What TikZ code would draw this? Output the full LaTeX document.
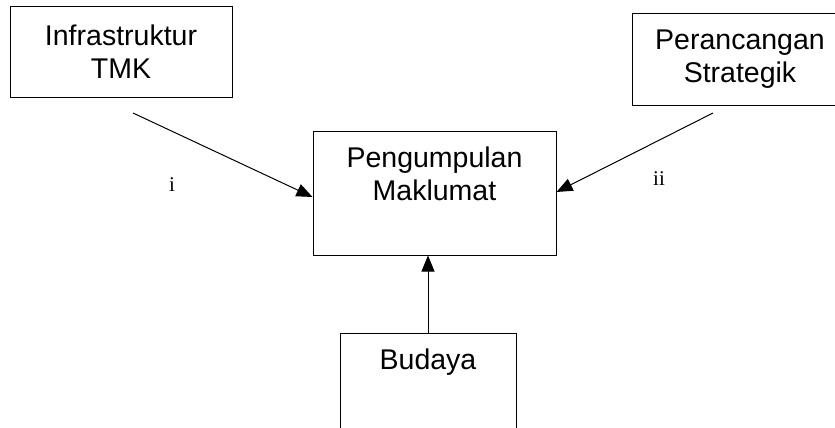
\documentclass[tikz,border=0pt]{standalone}
\usepackage{fontspec}
\setmainfont{Liberation Serif}
\newfontfamily\arialfont{Liberation Sans}
\usetikzlibrary{arrows.meta,positioning}

\begin{document}
\begin{tikzpicture}[x=1pt, y=-1pt,
  box/.style={draw=black, line width=1pt, rectangle, inner sep=0pt,
    align=center, font=\arialfont\fontsize{28.5}{33}\selectfont},
  boxtext/.style={inner sep=0pt, align=center, anchor=north,
    font=\arialfont\fontsize{28.5}{33}\selectfont},
  numlabel/.style={inner sep=0pt, font=\fontsize{21}{24}\selectfont},
  ar/.style={-{Triangle[length=16pt, width=13pt]}, line width=1pt},
]
\useasboundingbox (0,0) rectangle (835,428);
\clip (0,0) rectangle (835,428);

%--- Input factors ---
\node[box, minimum width=222pt, minimum height=90pt] (infra) at (121,52)
  {Infrastruktur\\TMK};
\node[box, minimum width=216pt, minimum height=91pt] (strat) at (740,59.5)
  {Perancangan\\Strategik};

%--- Central box ---
\node[box, minimum width=243pt, minimum height=124pt] (info) at (434.5,193) {};
\node[boxtext] (infotxt) at (434.5,147) {Pengumpulan\\Maklumat};

%--- Budaya ---
\node[box, minimum width=176pt, minimum height=120pt] (budaya) at (428,393) {};
\node[boxtext] (budayatxt) at (428,349) {Budaya};

%--- Arrows ---
\coordinate (s1) at (133,113);
\coordinate (s2) at (713,113);
\draw[ar] (s1) -- ([yshift=-4pt]info.west);
\draw[ar] (s2) -- ([yshift=1pt]info.east);
\draw[ar] (budaya.north) -- (budaya.north |- info.south);

%--- Labels ---
\node[numlabel] (li)  at (172,185) {i};
\node[numlabel] (lii) at (659,179) {ii};

\end{tikzpicture}
\end{document}
